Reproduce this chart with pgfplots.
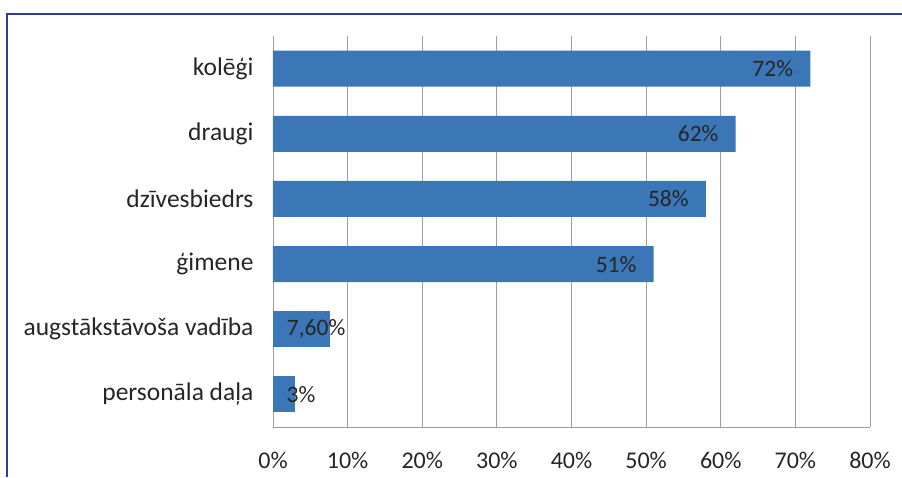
\documentclass[border=0pt]{standalone}
\usepackage{fontspec}
\setmainfont{Carlito}
\usepackage{pgfplots}
\pgfplotsset{compat=1.18}

\definecolor{barblue}{HTML}{3B76B6}
\definecolor{gridc}{HTML}{A89C98}
\definecolor{framec}{HTML}{2B3F9A}
\definecolor{txt}{HTML}{262626}

\begin{document}
\begin{tikzpicture}
  \path[use as bounding box] (0pt,0pt) rectangle (902pt,477pt);
  \draw[framec, line width=2.2pt] (7pt,0pt) -- (7pt,463pt) -- (902pt,463pt);
  \begin{axis}[
    at={(273pt,50pt)}, anchor=south west,
    scale only axis, width=597pt, height=391pt,
    xmin=0, xmax=80, ymin=-0.5, ymax=5.5,
    xbar, bar width=36pt,
    axis x line=bottom, axis y line=left,
    axis line style={gridc, line width=0.8pt, -},
    xtick={0,10,...,80},
    xticklabels={0\%,10\%,20\%,30\%,40\%,50\%,60\%,70\%,80\%},
    ytick={0,...,5},
    yticklabels={personāla daļa,augstākstāvoša vadība,ģimene,dzīvesbiedrs,draugi,kolēģi},
    major tick length=0pt,
    xmajorgrids, grid style={gridc, line width=0.8pt},
    xticklabel style={font=\fontsize{24}{28}\selectfont, text=txt, yshift=-22pt},
    yticklabel style={font=\fontsize{25.5}{28}\selectfont, text=txt, xshift=-16pt},
    point meta=explicit symbolic,
    nodes near coords,
    every node near coord/.style={font=\fontsize{23.5}{26}\selectfont, text=txt, inner sep=0pt},
  ]
    \addplot[draw=none, fill=barblue, bar shift=0pt,
      every node near coord/.append style={anchor=east, xshift=-17pt}]
      coordinates {(72,5) [72\%] (62,4) [62\%] (58,3) [58\%] (51,2) [51\%]};
    \addplot[draw=none, fill=barblue, bar shift=0pt,
      every node near coord/.append style={anchor=west, xshift=-43pt}]
      coordinates {(7.6,1) [7,60\%]};
    \addplot[draw=none, fill=barblue, bar shift=0pt,
      every node near coord/.append style={anchor=west, xshift=-9pt}]
      coordinates {(3,0) [3\%]};
  \end{axis}
\end{tikzpicture}
\end{document}
